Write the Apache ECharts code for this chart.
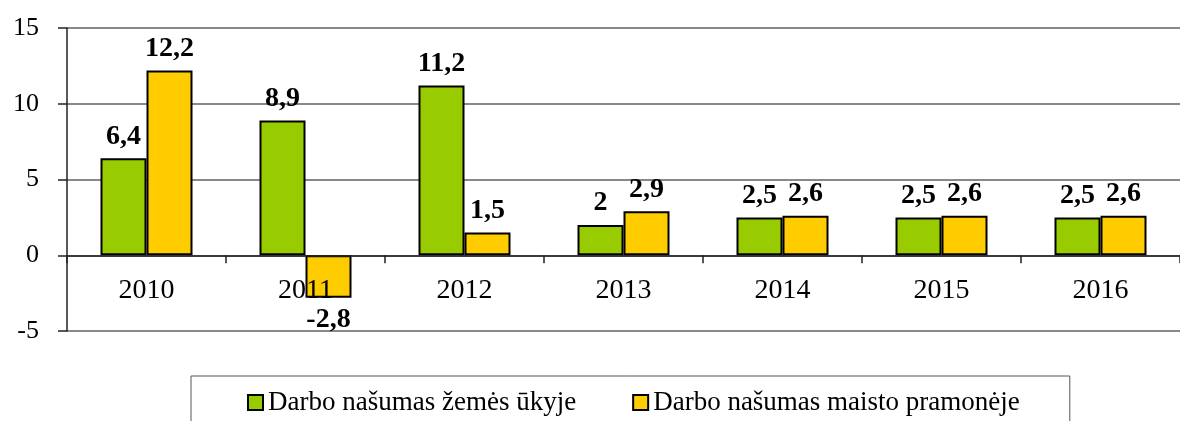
<!DOCTYPE html>
<html>
<head>
<meta charset="utf-8">
<script src="https://cdn.jsdelivr.net/npm/echarts@6/dist/echarts.min.js"></script>
<style>
  html, body { margin: 0; padding: 0; background: #fff; }
  #main { width: 1180px; height: 421px; }
</style>
</head>
<body>
<div id="main"></div>
<script>
var years = ['2010', '2011', '2012', '2013', '2014', '2015', '2016'];
var seriesNames = ['Darbo našumas žemės ūkyje', 'Darbo našumas maisto pramonėje'];
var agriculture = [6.4, 8.9, 11.2, 2, 2.5, 2.5, 2.5];
var foodIndustry = [12.2, -2.8, 1.5, 2.9, 2.6, 2.6, 2.6];

var font = 'Liberation Serif';

// kablelis vietoj taško
function comma(p) {
    return String(p.value).replace('.', ',');
}

var barLabel = {
    show: true,
    position: 'outside',
    distance: 8,
    formatter: comma,
    color: '#000',
    fontFamily: font,
    fontWeight: 'bold',
    fontSize: 28
};

var myChart = echarts.init(document.getElementById('main'));

var option = {
    animation: false,
    textStyle: { fontFamily: font },
    grid: { left: 67, top: 28, right: -7, bottom: 90 },
    legend: {
        data: seriesNames,
        left: 191,
        top: 376,
        orient: 'horizontal',
        padding: [13, 50, 40, 56],
        borderColor: '#555',
        borderWidth: 1,
        itemGap: 56,
        icon: 'rect',
        itemWidth: 15,
        itemHeight: 15,
        itemStyle: { borderColor: '#000', borderWidth: 2 },
        textStyle: { color: '#000', fontFamily: font, fontSize: 27 }
    },
    xAxis: {
        type: 'category',
        data: years,
        z: 5,
        axisLine: { onZero: true, lineStyle: { color: '#222', width: 1.5 } },
        axisTick: { show: true, length: 8, lineStyle: { color: '#222', width: 1.5 } },
        // etiketės prie nulio linijos
        axisLabel: { color: '#000', fontFamily: font, fontSize: 28, margin: -54 }
    },
    yAxis: {
        type: 'value',
        min: -5,
        max: 15,
        interval: 5,
        axisLine: { show: true, lineStyle: { color: '#222', width: 1.5 } },
        axisTick: { show: true, length: 9, lineStyle: { color: '#222', width: 1.5 } },
        axisLabel: { color: '#000', fontFamily: font, fontSize: 26, margin: 28 },
        splitLine: { show: true, lineStyle: { color: '#888', width: 2 } }
    },
    series: [
        {
            name: seriesNames[0],
            type: 'bar',
            data: agriculture,
            barWidth: 46,
            barGap: '0%',
            itemStyle: { color: '#99CC00', borderColor: '#000', borderWidth: 2 },
            label: barLabel
        },
        {
            name: seriesNames[1],
            type: 'bar',
            data: foodIndustry,
            barWidth: 46,
            barGap: '0%',
            itemStyle: { color: '#FFCC00', borderColor: '#000', borderWidth: 2 },
            label: barLabel
        }
    ]
};

myChart.setOption(option);
</script>
</body>
</html>
